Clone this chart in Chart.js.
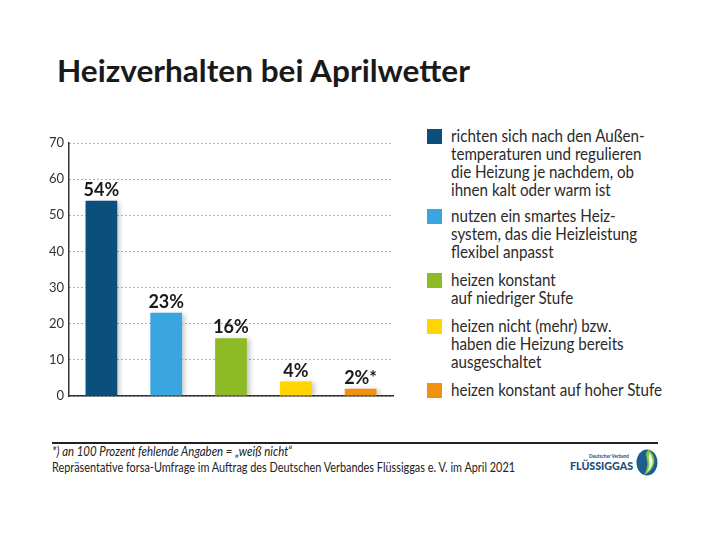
<!DOCTYPE html>
<html><head><meta charset="utf-8">
<script src="https://cdn.jsdelivr.net/npm/chart.js@4/dist/chart.umd.min.js"></script>
<style>
html,body{margin:0;padding:0;background:#fff;}
#page{position:relative;width:710px;height:553px;overflow:hidden;font-family:Lato,"Noto Sans",sans-serif;color:#222;}
.abs{position:absolute;white-space:nowrap;transform-origin:0 0;}
#title{left:57px;top:55px;font-size:31px;font-weight:700;line-height:31px;color:#1a1a1a;}
#chartBox{position:absolute;left:40px;top:120px;width:360px;height:290px;}
.sw{position:absolute;left:427px;width:15px;height:15px;}
.lt{position:absolute;left:451px;font-size:17px;line-height:18px;color:#2a2a2a;white-space:nowrap;transform-origin:0 0;}
#rule{position:absolute;left:52px;top:442px;width:606px;height:2px;background:#222;}
#fn1{left:52px;top:446px;font-size:12.5px;line-height:12.5px;font-style:italic;color:#222;}
#fn2{left:52px;top:461px;font-size:13px;line-height:13px;color:#222;}
#logo1{left:589px;top:454px;font-size:5px;line-height:5px;color:#1c4f80;font-weight:700;}
#logo2{left:570px;top:460px;font-size:11px;line-height:11px;color:#1c4f80;font-weight:900;}
#leaf{position:absolute;left:636px;top:449px;}
</style></head>
<body><div id="page">
<div id="title" class="abs">Heizverhalten bei Aprilwetter</div>
<div id="chartBox"><canvas id="c"></canvas></div>
<div id="legend"></div>
<div id="rule"></div>
<div id="fn1" class="abs">*) an 100 Prozent fehlende Angaben = „weiß nicht“</div>
<div id="fn2" class="abs">Repräsentative forsa-Umfrage im Auftrag des Deutschen Verbandes Flüssiggas e. V. im April 2021</div>
<div id="logo1" class="abs">Deutscher Verband</div>
<div id="logo2" class="abs">FLÜSSIGGAS</div>
<svg id="leaf" width="22" height="27" viewBox="0 0 22 27"><ellipse cx="11" cy="13.5" rx="10.5" ry="13" fill="#1c5d92"/><path d="M13 0.8 C5 6, 17 12, 8 26 C15 23, 20 15, 18 9 C17 5, 15 3, 13 0.8Z" fill="#8cc63f"/><path d="M14 4 C10 9, 17 14, 11 23 C15 20, 18 14, 16 9 Z" fill="#fff" opacity="0.85"/></svg>
</div>
<script>
const categories = [
  ["richten sich nach den Außen-","temperaturen und regulieren","die Heizung je nachdem, ob","ihnen kalt oder warm ist"],
  ["nutzen ein smartes Heiz-","system, das die Heizleistung","flexibel anpasst"],
  ["heizen konstant","auf niedriger Stufe"],
  ["heizen nicht (mehr) bzw.","haben die Heizung bereits","ausgeschaltet"],
  ["heizen konstant auf hoher Stufe"]
];
const values = [54, 23, 16, 4, 2];
const valueLabels = ["54%", "23%", "16%", "4%", "2%*"];
const yMax = 70;
const yStep = 10;
const colors = ["#0b4f7c", "#3aa6e0", "#8dbb26", "#ffd400", "#f0920f"];

// legend layout
const legendBaselines = [143, 223, 287, 333, 397];
const legend = document.getElementById('legend');
const textEls = [];
categories.forEach((lines, i) => {
  const sw = document.createElement('div');
  sw.className = 'sw';
  sw.style.top = (legendBaselines[i] - 14) + 'px';
  sw.style.background = colors[i];
  legend.appendChild(sw);
  const t = document.createElement('div');
  t.className = 'lt';
  t.style.top = (legendBaselines[i] - 15.6) + 'px';
  t.innerHTML = lines.map(l => l.replace(/&/g,'&amp;')).join('<br>');
  legend.appendChild(t);
  textEls.push(t);
});

function fit(el, target) {
  el.style.transform = 'none';
  const w = el.getBoundingClientRect().width;
  el.style.transform = 'scaleX(' + (target / w) + ')';
  return target / w;
}
fit(document.getElementById('title'), 413);
fit(document.getElementById('fn1'), 240);
fit(document.getElementById('fn2'), 463);
fit(document.getElementById('logo2'), 63);
fit(document.getElementById('logo1'), 40);
const sLeg = fit(textEls[4], 211);
textEls.forEach(t => t.style.transform = 'scaleX(' + sLeg + ')');

const shadowPlugin = {
  id: 'shadow',
  beforeDatasetsDraw(c) { const x = c.ctx; x.save(); x.shadowColor = 'rgba(0,0,0,0.22)'; x.shadowBlur = 5; x.shadowOffsetX = 3; x.shadowOffsetY = 1; },
  afterDatasetsDraw(c) { c.ctx.restore(); }
};
const labelPlugin = {
  id: 'valueLabels',
  afterDatasetsDraw(c) {
    const x = c.ctx; const meta = c.getDatasetMeta(0);
    x.save(); x.font = 'bold 18px Lato'; x.fillStyle = '#1a1a1a'; x.textAlign = 'center'; x.textBaseline = 'alphabetic';
    meta.data.forEach((bar, i) => x.fillText(valueLabels[i], bar.x, bar.y - 5));
    x.restore();
  }
};

new Chart(document.getElementById('c'), {
  type: 'bar',
  data: {
    labels: categories.map(l => l.join(' ')),
    datasets: [{ data: values, backgroundColor: colors, borderWidth: 0, barPercentage: 0.49, categoryPercentage: 1 }]
  },
  options: {
    responsive: true, maintainAspectRatio: false, animation: false,
    layout: { padding: { top: 23, bottom: 14, right: 7, left: 0 } },
    plugins: { legend: { display: false }, tooltip: { enabled: false } },
    scales: {
      x: {
        ticks: { display: false },
        grid: { display: false, drawTicks: false },
        border: { display: true, color: '#333', width: 1.5 },
        afterFit: s => { s.height = 0; }
      },
      y: {
        min: 0, max: yMax,
        ticks: { stepSize: yStep, color: '#333', font: { family: 'Lato', size: 13 }, padding: 5 },
        grid: { color: '#666', lineWidth: 1, drawTicks: false },
        border: { display: true, color: '#333', width: 1.5, dash: [1, 3] },
        afterFit: s => { s.width = 29; }
      }
    }
  },
  plugins: [shadowPlugin, labelPlugin]
});
</script>
</body></html>
